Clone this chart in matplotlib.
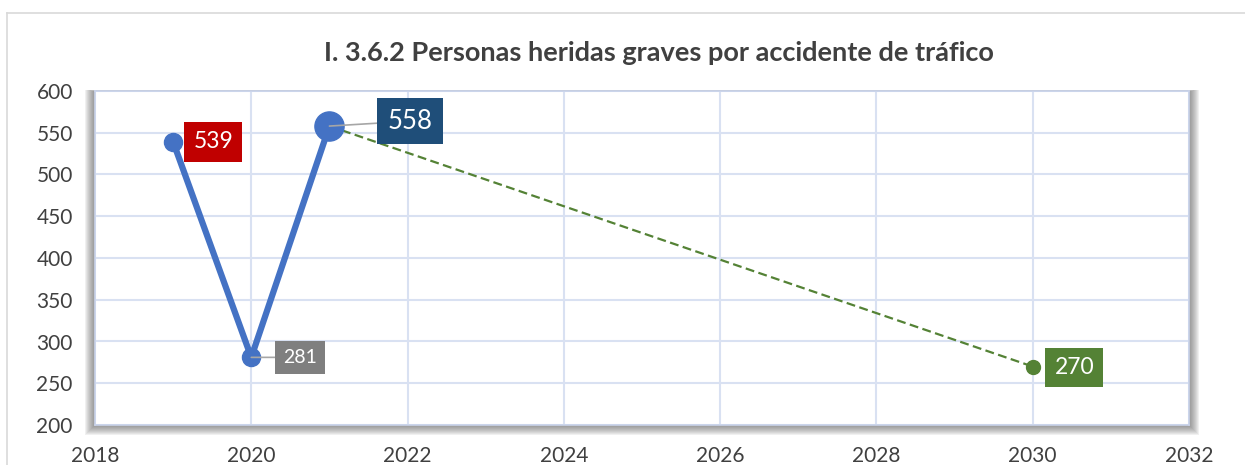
import matplotlib
matplotlib.use("Agg")
from matplotlib import rcParams
from matplotlib import pyplot as plt
from matplotlib.patches import Rectangle
from matplotlib.lines import Line2D

# data
years = [2019, 2020, 2021]
heridos = [539, 281, 558]
target_years = [2021, 2030]
target_vals = [558, 270]

title = "I. 3.6.2 Personas heridas graves por accidente de tráfico"
x_ticks = [2018, 2020, 2022, 2024, 2026, 2028, 2030, 2032]
y_ticks = [200, 250, 300, 350, 400, 450, 500, 550, 600]

rcParams["font.family"] = ["Lato", "DejaVu Sans"]

blue = "#4472C4"
green = "#548235"
grid_c = "#D9E1F2"
text_c = "#404040"

fig = plt.figure(figsize=(12.45, 4.65), dpi=100)

# outer chart border (left and top visible)
fig.add_artist(Line2D([7 / 1245, 7 / 1245], [0, 1 - 13 / 465], color="#D9D9D9", lw=1.2))
fig.add_artist(Line2D([7 / 1245, 1], [1 - 13 / 465, 1 - 13 / 465], color="#D9D9D9", lw=1.2))

left, right = 95 / 1245, 1189 / 1245
bottom, top = 1 - 425 / 465, 1 - 91 / 465

# soft shadow behind plot area
for i in range(10):
    off = (10 - i) / 1245
    offy = (10 - i) / 465
    fig.add_artist(Rectangle((left - off, bottom - offy), right - left + 2 * off, top - bottom + offy + off * 0.3,
                             transform=fig.transFigure, facecolor="#606060", alpha=0.09, lw=0, zorder=0))

ax = fig.add_axes([left, bottom, right - left, top - bottom])
ax.set_facecolor("white")
ax.set_xlim(2018, 2032)
ax.set_ylim(200, 600)
ax.set_xticks(x_ticks)
ax.set_yticks(y_ticks)
ax.grid(True, color=grid_c, lw=1.5)
ax.set_axisbelow(True)
for s in ax.spines.values():
    s.set_color("#C9D3EA")
    s.set_linewidth(1.2)
ax.tick_params(length=0, labelsize=15, colors="#404040")
ax.tick_params(axis="y", pad=16)
ax.tick_params(axis="x", pad=15)

ax.plot(target_years, target_vals, color=green, lw=1.6, ls=(0, (4, 2)), zorder=3)
ax.plot(target_years[-1:], target_vals[-1:], "o", color=green, ms=10, zorder=4)

ax.plot(years, heridos, color=blue, lw=4.5, solid_capstyle="round", zorder=5)
ax.plot(years[:2], heridos[:2], "o", color=blue, ms=13, zorder=6)
ax.plot(years[2:], heridos[2:], "o", color=blue, ms=21, zorder=6)

labels = [
    (years[0], heridos[0], 29, 0, "#C00000", 16.5, False),
    (years[1], heridos[1], 35, 0, "#7F7F7F", 14, True),
    (years[2], heridos[2], 58, 3.5, "#1F4E79", 18.5, True),
    (target_years[1], target_vals[1], 30, -0.5, green, 16.5, False),
]
for x, y, dx, dy, c, fs, leader in labels:
    arrow = dict(arrowstyle="-", color="#A6A6A6", lw=1.2, shrinkA=0, shrinkB=0) if leader else None
    ax.annotate(str(y), (x, y), xytext=(dx, dy), textcoords="offset points",
                ha="center", va="center", fontsize=fs, color="white", zorder=8,
                bbox=dict(boxstyle="square,pad=0.4", fc=c, ec="none"),
                arrowprops=arrow)

fig.text(0.529, 1 - 53 / 465, title, ha="center", va="center",
         fontsize=19.5, fontweight="bold", color=text_c)

plt.savefig("out.png", dpi=100)
